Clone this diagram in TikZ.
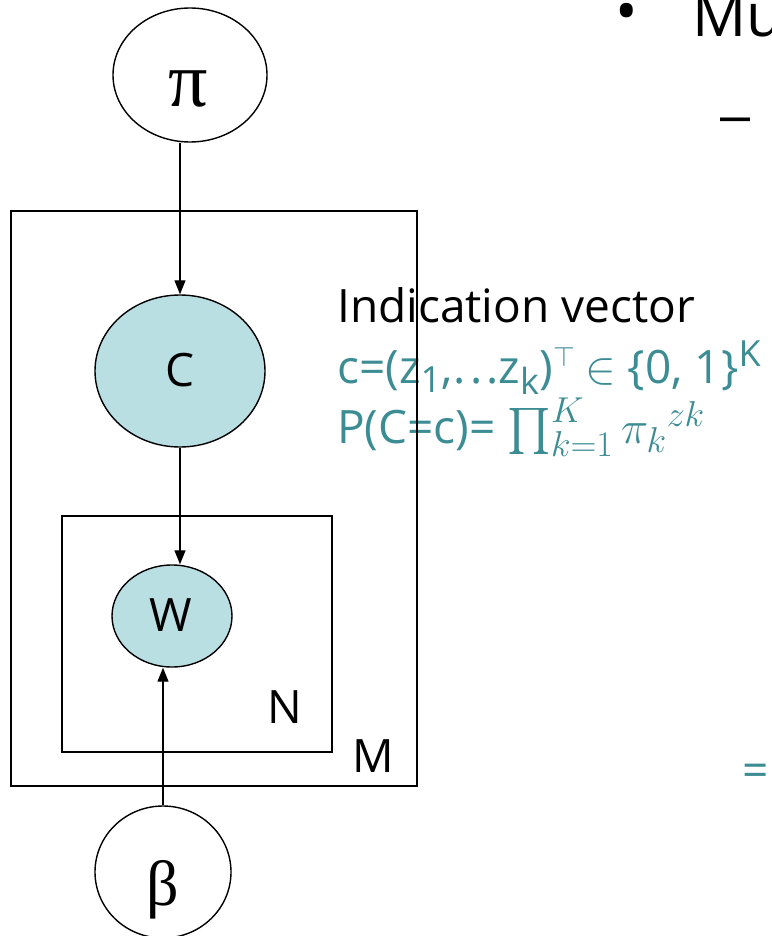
\RequirePackage{fix-cm}
\documentclass[tikz,border=0pt]{standalone}
\usepackage{amsmath}
\DeclareFontFamily{OMX}{cmex}{}
\DeclareFontShape{OMX}{cmex}{m}{n}{<-> cmex10}{}
\DeclareMathSizes{46}{46}{36}{28}
\usepackage{fontspec}
\setmainfont{Open Sans}
\newfontfamily\greekfont{Liberation Serif}
\newfontfamily\dashfont{Liberation Sans}
\usetikzlibrary{shapes.geometric,arrows.meta}
\definecolor{tealtxt}{RGB}{60,140,148}
\definecolor{nodefill}{RGB}{186,223,227}
\tikzset{
  ell/.style={ellipse,draw=black,line width=1.4pt,inner sep=0pt},
  plate/.style={draw=black,line width=1.6pt},
  arr/.style={line width=1.3pt,-{Triangle[length=14pt,width=11pt]}},
  lbl/.style={inner sep=0pt,font=\fontsize{46}{55}\selectfont},
  glbl/.style={inner sep=0pt,anchor=base},
  txt/.style={inner sep=0pt,anchor=base west,font=\fontsize{46}{56}\selectfont}
}
\begin{document}
\begin{tikzpicture}[x=1pt,y=-1pt]
\useasboundingbox (0,0) rectangle (771,936);
\clip (0,0) rectangle (771,936);
% right-side texts (drawn first, plates go over them)
\node[txt,text=black] (indic) at (337,322) {Indication vector};
\node[txt,text=tealtxt] (cvec) at (337,383) {c=(z\textsubscript{1},\kern1pt.\kern4pt.\kern4pt.\kern0pt z\textsubscript{k})\smash{$^{\scriptscriptstyle\top}$}\kern-2pt{} $\in$ \{0, 1\}\smash{\textsuperscript{K}}};
\node[txt,text=tealtxt] (pc) at (337,443) {P(C=c)= \smash{$\prod_{k=1}^{K}\pi_{k}{}^{zk}$}};
\node[inner sep=0pt,anchor=center,font=\fontsize{60}{70}\selectfont] (bul) at (627,18) {•};
\node[inner sep=0pt,anchor=base west,font=\fontsize{60}{70}\selectfont] (mu) at (692,37) {Mu};
\node[inner sep=0pt,anchor=base west,font=\dashfont\fontsize{54}{64}\selectfont] (dash) at (720,134) {–};
\node[txt,text=tealtxt] (eqs) at (742,786) {=};
% plates
\draw[plate] (11,211) rectangle (417,786);
\draw[plate] (62,516) rectangle (332,752);
\node[lbl,anchor=center] (Nl) at (285,707) {N};
\node[lbl,anchor=center] (Ml) at (373,756) {M};
% nodes
\node[ell,fill=white,minimum width=154pt,minimum height=134pt] (pi) at (190,75) {};
\node[glbl,font=\greekfont\fontsize{78}{90}\selectfont] (pilbl) at (188,107) {π};
\node[ell,fill=nodefill,minimum width=170pt,minimum height=152pt] (C) at (180,371) {};
\node[lbl,anchor=center] (Cl) at (180,370) {C};
\node[ell,fill=nodefill,minimum width=120pt,minimum height=102pt] (W) at (172,616) {};
\node[lbl,anchor=center] (Wl) at (171,615) {W};
\node[ell,fill=white,minimum width=136pt,minimum height=132pt] (beta) at (163,872) {};
\node[glbl,font=\greekfont\fontsize{64}{74}\selectfont] (betalbl) at (163,905) {β};
% connectors
\draw[arr] (C.north |- pi.south) -- (C.north);
\draw[arr] (C.south) -- (C.south |- W.north);
\draw[arr] (beta.north) -- (beta.north |- W.south);
\end{tikzpicture}
\end{document}
